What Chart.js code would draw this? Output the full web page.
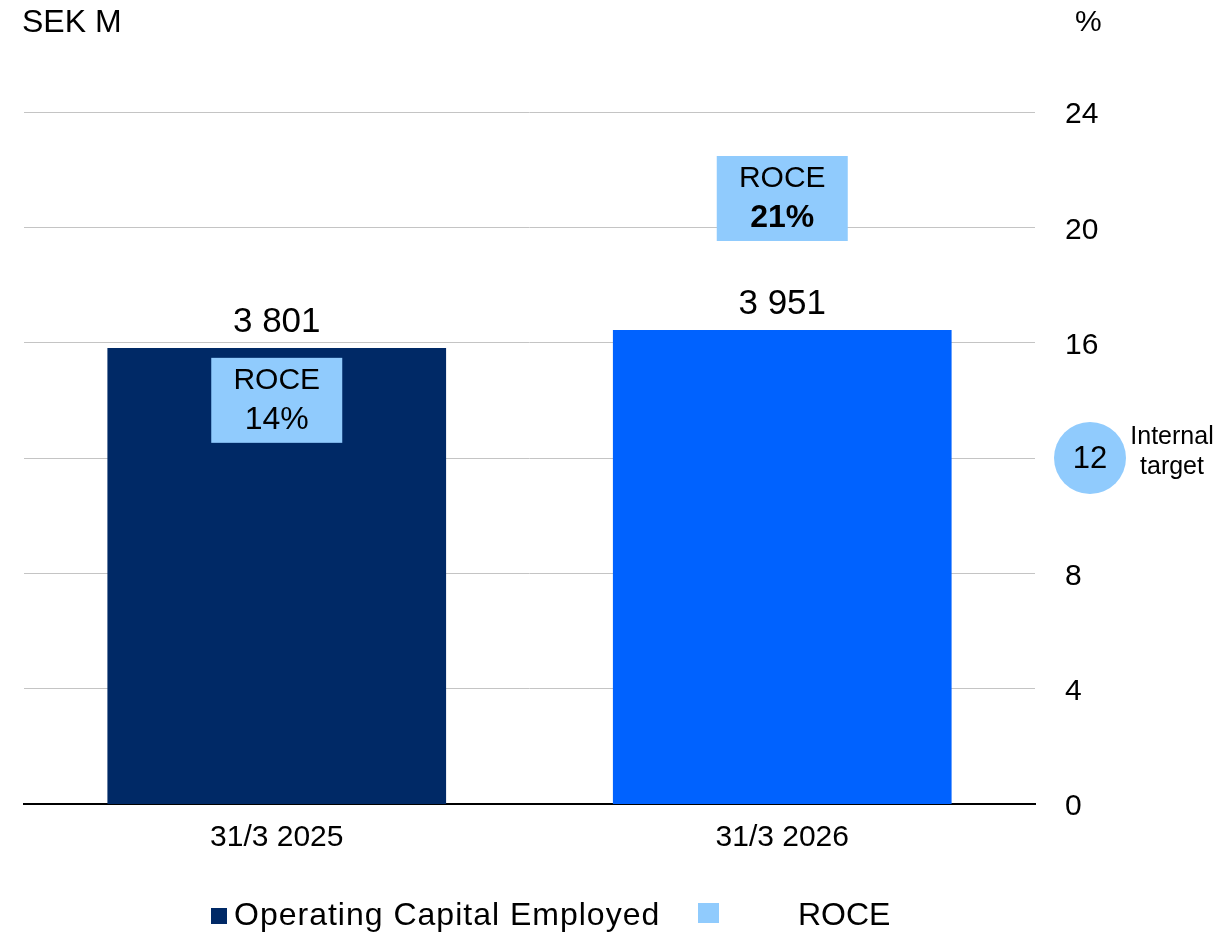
<!DOCTYPE html>
<html>
<head>
<meta charset="utf-8">
<title>Operating Capital Employed and ROCE</title>
<script src="https://cdn.jsdelivr.net/npm/chart.js@4.4.1/dist/chart.umd.min.js"></script>
<style>
  html, body { margin: 0; padding: 0; background: #fff; }
  #wrap { width: 1224px; height: 933px; position: relative; }
</style>
</head>
<body>
<div id="wrap"><canvas id="roceChart"></canvas></div>
<script>
const dates = ['31/3 2025', '31/3 2026'];
const capitalEmployed = [3801, 3951];   // SEK M
const roce = [14, 21];                  // %
const pctTicks = [0, 4, 8, 12, 16, 20, 24];
const internalTarget = 12;              // %

const FONT = '"Liberation Sans", Arial, sans-serif';
const NAVY = '#002966';
const BLUE = '#0062ff';
const LIGHT = '#90cbfd';

const fmt = v => String(v).replace(/\B(?=(\d{3})+(?!\d))/g, ' ');

// value labels, ROCE boxes, target badge, unit titles and legend
const overlay = {
  id: 'overlay',
  afterDatasetsDraw(chart) {
    const ctx = chart.ctx;
    ctx.save();
    ctx.fillStyle = '#000';
    ctx.textAlign = 'center';

    // bar values
    ctx.font = '35px ' + FONT;
    ctx.textBaseline = 'alphabetic';
    chart.getDatasetMeta(0).data.forEach((bar, i) => {
      ctx.fillText(fmt(capitalEmployed[i]), bar.x, bar.y - 16);
    });

    // ROCE boxes
    chart.getDatasetMeta(1).data.forEach((pt, i) => {
      const w = 131, h = 85;
      ctx.fillStyle = LIGHT;
      ctx.fillRect(pt.x - w / 2, pt.y - h / 2, w, h);
      ctx.fillStyle = '#000';
      ctx.textBaseline = 'middle';
      ctx.font = '30px ' + FONT;
      ctx.fillText('ROCE', pt.x, pt.y - 20);
      ctx.font = (i === roce.length - 1 ? 'bold ' : '') + '32px ' + FONT;
      ctx.fillText(roce[i] + '%', pt.x, pt.y + 20);
    });

    // internal target badge on the % axis
    const yPct = chart.scales.yPct;
    const ty = yPct.getPixelForValue(internalTarget);
    const cx = chart.chartArea.right + 55;
    ctx.fillStyle = LIGHT;
    ctx.beginPath();
    ctx.arc(cx, ty, 36, 0, Math.PI * 2);
    ctx.fill();
    ctx.fillStyle = '#000';
    ctx.font = '31px ' + FONT;
    ctx.fillText(String(internalTarget), cx, ty + 1);
    ctx.font = '25px ' + FONT;
    ctx.fillText('Internal', cx + 82, ty - 21);
    ctx.fillText('target', cx + 82, ty + 9);
    ctx.restore();
  },
  afterDraw(chart) {
    const ctx = chart.ctx;
    ctx.save();
    ctx.fillStyle = '#000';
    ctx.textBaseline = 'alphabetic';
    ctx.textAlign = 'left';
    ctx.font = '32px ' + FONT;
    ctx.fillText('SEK M', 22, 32);
    ctx.font = '30px ' + FONT;
    ctx.fillText('%', 1075, 31);

    // legend
    const ds = chart.data.datasets;
    ctx.font = '32px ' + FONT;
    ctx.fillStyle = ds[0].legendColor;
    ctx.fillRect(211, 908, 16, 16);
    ctx.fillStyle = '#000';
    ctx.letterSpacing = '1px';
    ctx.fillText(ds[0].label, 234, 925);
    ctx.letterSpacing = '0px';
    ctx.fillStyle = ds[1].backgroundColor;
    ctx.fillRect(698, 903, 21, 20);
    ctx.fillStyle = '#000';
    ctx.fillText(ds[1].label, 798, 925);
    ctx.restore();
  }
};

new Chart(document.getElementById('roceChart'), {
  data: {
    labels: dates,
    datasets: [
      {
        type: 'bar',
        label: 'Operating Capital Employed',
        data: capitalEmployed,
        yAxisID: 'yCap',
        backgroundColor: [NAVY, BLUE],
        legendColor: NAVY,
        barPercentage: 0.67,
        categoryPercentage: 1,
        order: 2
      },
      {
        type: 'line',
        label: 'ROCE',
        data: roce,
        yAxisID: 'yPct',
        showLine: false,
        pointRadius: 0,
        backgroundColor: LIGHT,
        order: 1
      }
    ]
  },
  options: {
    responsive: true,
    maintainAspectRatio: false,
    animation: false,
    layout: { padding: { top: 112, left: 24, right: 0, bottom: 0 } },
    plugins: {
      legend: { display: false },
      tooltip: { enabled: false }
    },
    scales: {
      x: {
        grid: { display: false },
        border: { color: '#000', width: 2 },
        ticks: { color: '#000', font: { family: FONT, size: 30 }, padding: 8 },
        afterFit(scale) { scale.height = 129; }
      },
      yCap: {
        display: false,
        min: 0,
        max: 5768
      },
      yPct: {
        position: 'right',
        min: 0,
        max: 24,
        afterBuildTicks(scale) { scale.ticks = pctTicks.map(v => ({ value: v })); },
        ticks: {
          color: '#000',
          font: { family: FONT, size: 30 },
          padding: 30,
          labelOffset: 3,
          callback: v => (v === internalTarget ? '' : v)
        },
        grid: { color: '#c4c4c4', lineWidth: 1, drawTicks: false },
        border: { display: false },
        afterFit(scale) { scale.width = 189; }
      }
    }
  },
  plugins: [overlay]
});
</script>
</body>
</html>
